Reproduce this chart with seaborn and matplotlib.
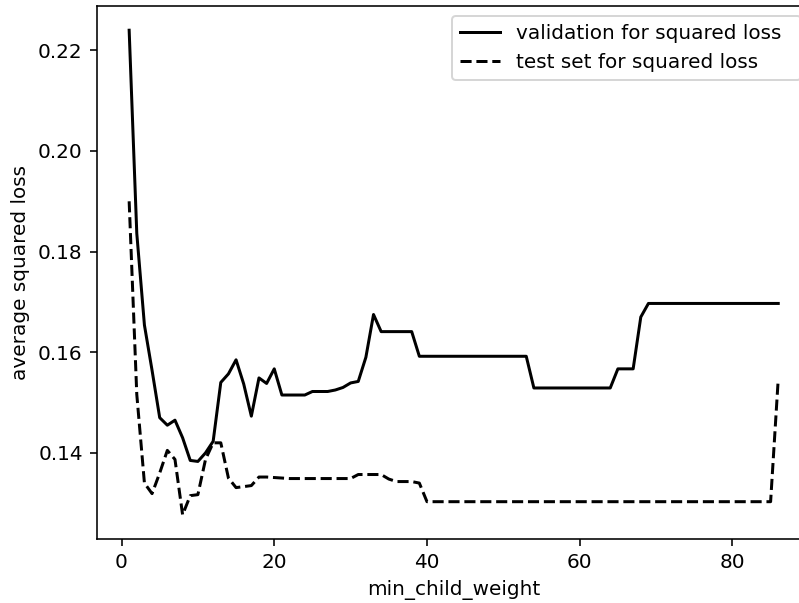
import matplotlib
matplotlib.use("Agg")
import matplotlib.pyplot as plt
import seaborn as sns

# min_child_weight values on the x axis
min_child_weight = list(range(1, 87))

# average squared loss on the validation set
validation_loss = [
    0.2240, 0.1836, 0.1654, 0.1564, 0.1470, 0.1455, 0.1465, 0.1430, 0.1385, 0.1383,
    0.1400, 0.1423, 0.1540, 0.1557, 0.1585, 0.1537, 0.1473, 0.1549, 0.1538, 0.1567,
    0.1515, 0.1515, 0.1515, 0.1515, 0.1522, 0.1522, 0.1522, 0.1525, 0.1530, 0.1539,
    0.1542, 0.1590, 0.1675, 0.1641, 0.1641, 0.1641, 0.1641, 0.1641, 0.1592, 0.1592,
    0.1592, 0.1592, 0.1592, 0.1592, 0.1592, 0.1592, 0.1592, 0.1592, 0.1592, 0.1592,
    0.1592, 0.1592, 0.1592, 0.1529, 0.1529, 0.1529, 0.1529, 0.1529, 0.1529, 0.1529,
    0.1529, 0.1529, 0.1529, 0.1529, 0.1567, 0.1567, 0.1567, 0.1670, 0.1697, 0.1697,
    0.1697, 0.1697, 0.1697, 0.1697, 0.1697, 0.1697, 0.1697, 0.1697, 0.1697, 0.1697,
    0.1697, 0.1697, 0.1697, 0.1697, 0.1697, 0.1697,
]

# average squared loss on the test set
test_loss = [
    0.1900, 0.1516, 0.1340, 0.1319, 0.1360, 0.1405, 0.1387, 0.1277, 0.1315, 0.1317,
    0.1387, 0.1420, 0.1420, 0.1350, 0.1331, 0.1333, 0.1335, 0.1352, 0.1352, 0.1351,
    0.1350, 0.1349, 0.1349, 0.1349, 0.1349, 0.1349, 0.1349, 0.1349, 0.1349, 0.1349,
    0.1357, 0.1357, 0.1357, 0.1357, 0.1348, 0.1343, 0.1343, 0.1343, 0.1340, 0.1303,
    0.1303, 0.1303, 0.1303, 0.1303, 0.1303, 0.1303, 0.1303, 0.1303, 0.1303, 0.1303,
    0.1303, 0.1303, 0.1303, 0.1303, 0.1303, 0.1303, 0.1303, 0.1303, 0.1303, 0.1303,
    0.1303, 0.1303, 0.1303, 0.1303, 0.1303, 0.1303, 0.1303, 0.1303, 0.1303, 0.1303,
    0.1303, 0.1303, 0.1303, 0.1303, 0.1303, 0.1303, 0.1303, 0.1303, 0.1303, 0.1303,
    0.1303, 0.1303, 0.1303, 0.1303, 0.1303, 0.1547,
]

fig = plt.figure(figsize=(799 / 144, 603 / 144), dpi=144)
# axes run a little past the right edge, like the cropped original
ax = fig.add_axes([96.7 / 799, 64 / 603, 714 / 799, 533 / 603])

sns.lineplot(x=min_child_weight, y=validation_loss, color="black",
             label="validation for squared loss", ax=ax)
sns.lineplot(x=min_child_weight, y=test_loss, color="black", linestyle="--",
             label="test set for squared loss", ax=ax)

ax.set_xlabel("min_child_weight")
ax.set_ylabel("average squared loss")
# legend box runs off the right edge in the original
ax.legend(loc="upper left", bbox_to_anchor=(0.4836, 0.0, 0.5164, 1.0), mode="expand")

fig.savefig("out.png", dpi=144)
